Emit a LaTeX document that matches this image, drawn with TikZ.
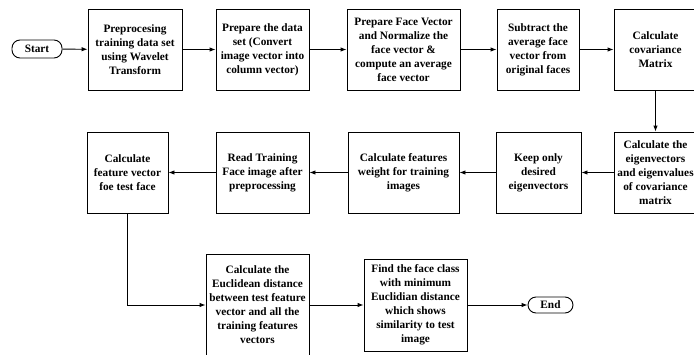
\documentclass[tikz,border=0pt]{standalone}
\usepackage{fontspec}
\setmainfont{Liberation Serif}
\usepackage{tikz}
\usetikzlibrary{arrows.meta}
\usetikzlibrary{calc}

\tikzset{
	stepbox/.style={shape=rectangle,draw,align=center,inner sep=1pt,minimum height=81pt},
	endpill/.style={shape=rectangle,rounded corners=8pt,draw,inner sep=1pt},
}

\begin{document}
\begin{tikzpicture}[x=1pt,y=-1pt,line width=0.9pt,>={Latex[length=6pt,width=4.5pt]},
	font=\fontsize{11.3}{14}\selectfont\bfseries]
	\useasboundingbox (0,0) rectangle (694,354);
	\clip (0,0) rectangle (694,354);
	% first row, left to right
	\draw (37,49) node (start) [endpill,minimum width=50pt,minimum height=18pt] {Start};
	\draw (135,49.5) node (prep) [stepbox,minimum width=94pt] {Preprocesing\\training data set\\using Wavelet\\Transform};
	\draw (262.5,49.5) node (data) [stepbox,minimum width=93pt] {Prepare the data\\set (Convert\\image vector into\\column vector)};
	\draw (403.5,49.5) node (facevec) [stepbox,minimum width=113pt] {Prepare Face Vector\\and Normalize the\\face vector \&\\compute an average\\face vector};
	\draw (538,49.5) node (subtract) [stepbox,minimum width=82pt] {Subtract the\\average face\\vector from\\original faces};
	\draw (655.5,49.5) node (covar) [stepbox,minimum width=83pt] {Calculate\\covariance\\Matrix};
	% second row, right to left
	\draw (655.5,172.5) node (eigen) [stepbox,minimum width=83pt] {Calculate the\\eigenvectors\\and eigenvalues\\of covariance\\matrix};
	\draw (538.5,172.5) node (keep) [stepbox,minimum width=85pt] {Keep only\\desired\\eigenvectors};
	\draw (403.5,172.5) node (weight) [stepbox,minimum width=111pt] {Calculate features\\weight for training\\images};
	\draw (262.5,172.5) node (read) [stepbox,minimum width=93pt] {Read Training\\Face image after\\preprocessing};
	\draw (127.5,172.5) node (testvec) [stepbox,minimum width=81pt] {Calculate\\feature vector\\foe test face};
	% third row
	\draw (257.5,305) node (euclid) [stepbox,minimum width=103pt,minimum height=102pt] {Calculate the\\Euclidean distance\\between test feature\\vector and all the\\training features\\vectors};
	\draw (415.5,305) node (find) [stepbox,minimum width=103pt,minimum height=92pt] {Find the face class\\with minimum\\Euclidian distance\\which shows\\similarity to test\\image};
	\draw (550.5,305) node (end) [endpill,minimum width=45pt,minimum height=16pt] {End};
	% connectors
	\draw [->] (start) -- (prep);
	\draw [->] (prep) -- (data);
	\draw [->] (data) -- (facevec);
	\draw [->] (facevec) -- (subtract);
	\draw [->] (subtract) -- (covar);
	\draw [->] (covar) -- (eigen);
	\draw [->] (eigen) -- (keep);
	\draw [->] (keep) -- (weight);
	\draw [->] (weight) -- (read);
	\draw [->] (read) -- (testvec);
	\draw [->] (testvec.south) |- (euclid.west);
	\draw [->] (euclid) -- (find);
	\draw [->] (find) -- (end);
\end{tikzpicture}
\end{document}
